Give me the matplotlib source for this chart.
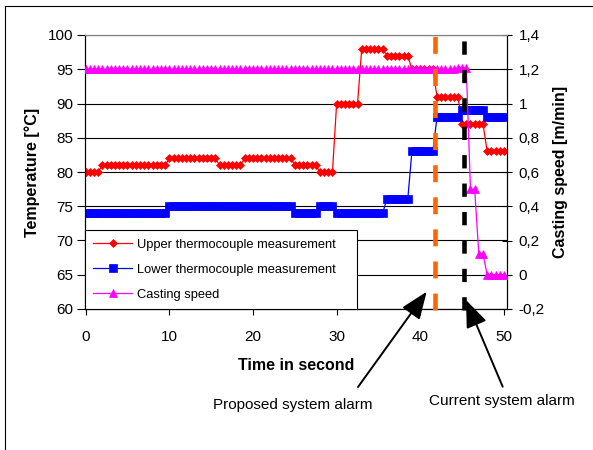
import matplotlib
matplotlib.use('Agg')
import matplotlib.pyplot as plt
import numpy as np
from matplotlib.lines import Line2D

plt.rcParams['font.family'] = ['Liberation Sans', 'DejaVu Sans']

# ---------------- data ----------------
time = np.arange(0, 50.01, 0.5)  # sampling every 0.5 s

upper = [
    80, 80, 80, 80, 81, 81, 81, 81, 81, 81,   # 0 - 4.5
    81, 81, 81, 81, 81, 81, 81, 81, 81, 81,   # 5 - 9.5
    82, 82, 82, 82, 82, 82, 82, 82, 82, 82,   # 10 - 14.5
    82, 82, 81, 81, 81, 81, 81, 81, 82, 82,   # 15 - 19.5
    82, 82, 82, 82, 82, 82, 82, 82, 82, 82,   # 20 - 24.5
    81, 81, 81, 81, 81, 81, 80, 80, 80, 80,   # 25 - 29.5
    90, 90, 90, 90, 90, 90, 98, 98, 98, 98,   # 30 - 34.5
    98, 98, 97, 97, 97, 97, 97, 97, 95, 95,   # 35 - 39.5
    95, 95, 95, 95, 91, 91, 91, 91, 91, 91,   # 40 - 44.5
    87, 87, 87, 87, 87, 87, 83, 83, 83, 83,   # 45 - 49.5
    83,                                       # 50
]

lower = [
    74, 74, 74, 74, 74, 74, 74, 74, 74, 74,   # 0 - 4.5
    74, 74, 74, 74, 74, 74, 74, 74, 74, 74,   # 5 - 9.5
    75, 75, 75, 75, 75, 75, 75, 75, 75, 75,   # 10 - 14.5
    75, 75, 75, 75, 75, 75, 75, 75, 75, 75,   # 15 - 19.5
    75, 75, 75, 75, 75, 75, 75, 75, 75, 75,   # 20 - 24.5
    74, 74, 74, 74, 74, 74, 75, 75, 75, 75,   # 25 - 29.5
    74, 74, 74, 74, 74, 74, 74, 74, 74, 74,   # 30 - 34.5
    74, 74, 76, 76, 76, 76, 76, 76, 83, 83,   # 35 - 39.5
    83, 83, 83, 83, 88, 88, 88, 88, 88, 88,   # 40 - 44.5
    89, 89, 89, 89, 89, 89, 88, 88, 88, 88,   # 45 - 49.5
    88,                                       # 50
]

speed = [
    1.2, 1.2, 1.2, 1.2, 1.2, 1.2, 1.2, 1.2, 1.2, 1.2,        # 0 - 4.5
    1.2, 1.2, 1.2, 1.2, 1.2, 1.2, 1.2, 1.2, 1.2, 1.2,        # 5 - 9.5
    1.2, 1.2, 1.2, 1.2, 1.2, 1.2, 1.2, 1.2, 1.2, 1.2,        # 10 - 14.5
    1.2, 1.2, 1.2, 1.2, 1.2, 1.2, 1.2, 1.2, 1.2, 1.2,        # 15 - 19.5
    1.2, 1.2, 1.2, 1.2, 1.2, 1.2, 1.2, 1.2, 1.2, 1.2,        # 20 - 24.5
    1.2, 1.2, 1.2, 1.2, 1.2, 1.2, 1.2, 1.2, 1.2, 1.2,        # 25 - 29.5
    1.2, 1.2, 1.2, 1.2, 1.2, 1.2, 1.2, 1.2, 1.2, 1.2,        # 30 - 34.5
    1.2, 1.2, 1.2, 1.2, 1.2, 1.2, 1.2, 1.2, 1.2, 1.2,        # 35 - 39.5
    1.2, 1.2, 1.2, 1.2, 1.2, 1.2, 1.2, 1.2, 1.2, 1.21,       # 40 - 44.5
    1.21, 1.21, 0.5, 0.5, 0.12, 0.12, 0.0, 0.0, 0.0, 0.0,    # 45 - 49.5
    0.0,                                                     # 50
]

series_labels = ['Upper thermocouple measurement',
                 'Lower thermocouple measurement',
                 'Casting speed']

x_ticks = [0, 10, 20, 30, 40, 50]
temp_ticks = [60, 65, 70, 75, 80, 85, 90, 95, 100]
speed_ticks = [-0.2, 0.0, 0.2, 0.4, 0.6, 0.8, 1.0, 1.2, 1.4]
speed_tick_labels = ['-0,2', '0', '0,2', '0,4', '0,6', '0,8', '1', '1,2', '1,4']

proposed_alarm_t = 41.75
current_alarm_t = 45.2

# ---------------- figure ----------------
W, H = 593, 450
fig = plt.figure(figsize=(W / 100, H / 100), dpi=100)

ax_l, ax_r, ax_t, ax_b = 85, 506.7, 35, 309
ax1 = fig.add_axes([ax_l / W, 1 - ax_b / H, (ax_r - ax_l) / W, (ax_b - ax_t) / H])
ax2 = ax1.twinx()

l1, = ax1.plot(time, upper, color='#FF0000', marker='D', ms=4.5, lw=0.9,
               mec='#FF0000', mew=0.5, label=series_labels[0], zorder=3)
l2, = ax1.plot(time, lower, color='#0000FF', marker='s', ms=6, lw=0.9,
               mec='#0000FF', mew=0.5, label=series_labels[1], zorder=3)
l3, = ax2.plot(time, speed, color='#FF00FF', marker='^', ms=6.3, lw=0.9,
               mec='#FF00FF', mew=0.5, label=series_labels[2], zorder=3)

ax1.set_xlim(-0.08, 50.33)
ax1.set_ylim(60, 100)
ax2.set_ylim(-0.2, 1.4)

ax1.set_xticks(x_ticks)
ax1.set_yticks(temp_ticks)
ax2.set_yticks(speed_ticks)
ax2.set_yticklabels(speed_tick_labels)

ax1.tick_params(axis='x', direction='out', length=4, width=0.8, pad=11, labelsize=11)
ax1.tick_params(axis='y', direction='out', length=5.5, width=0.8, pad=3, labelsize=11)
ax2.tick_params(axis='y', direction='inout', length=7, width=0.8, pad=5, labelsize=11)

ax1.yaxis.grid(True, color='black', lw=0.8)
ax1.set_axisbelow(True)

for ax in (ax1, ax2):
    for s in ax.spines.values():
        s.set_linewidth(0.8)
        s.set_color('black')
    ax.spines['top'].set_color('#808080')

# dashed alarm lines
ax2.plot([proposed_alarm_t, proposed_alarm_t], [-0.004, 1.047],
         transform=ax2.get_xaxis_transform(), color='#FF6600', lw=3.3,
         ls=(0, (3.7, 3.3)), dash_capstyle='butt', clip_on=False, zorder=10)
ax2.plot([current_alarm_t, current_alarm_t], [-0.004, 1.029],
         transform=ax2.get_xaxis_transform(), color='black', lw=3.3,
         ls=(0, (2.9, 3.3)), dash_capstyle='butt', clip_on=False, zorder=10)

# legend
leg = ax2.legend(handles=[l1, l2, l3], loc='lower left',
                 bbox_to_anchor=(0, 0, (357 - ax_l) / (ax_r - ax_l), 0.3),
                 mode='expand', borderaxespad=0, fontsize=9.3,
                 labelspacing=1.0, borderpad=0.65, handlelength=3.0,
                 handletextpad=0.35, fancybox=False, framealpha=1,
                 edgecolor='black', numpoints=1)
leg.get_frame().set_linewidth(0.8)
leg.set_zorder(20)

# axis titles
fig.text(32 / W, 1 - 172 / H, 'Temperature [°C]', rotation=90, ha='center',
         va='center', fontsize=11.5, fontweight='bold')
fig.text(561 / W, 1 - 172 / H, 'Casting speed [m/min]', rotation=90,
         ha='center', va='center', fontsize=11.5, fontweight='bold')
fig.text(296 / W, 1 - 366 / H, 'Time in second', ha='center', va='center',
         fontsize=11.5, fontweight='bold')

# annotations
fig.text(293 / W, 1 - 405 / H, 'Proposed system alarm', ha='center',
         va='center', fontsize=11)
fig.text(502 / W, 1 - 401 / H, 'Current system alarm', ha='center',
         va='center', fontsize=11)

arrow_kw = dict(arrowstyle='-|>,head_length=1.4,head_width=0.55',
                mutation_scale=12, lw=1.4, color='black',
                shrinkA=0, shrinkB=0)
ax2.annotate('', xy=(426.7 / W, 1 - 291.7 / H), xytext=(358 / W, 1 - 387 / H),
             xycoords='figure fraction', textcoords='figure fraction',
             arrowprops=arrow_kw, annotation_clip=False, zorder=30)
ax2.annotate('', xy=(466 / W, 1 - 300 / H), xytext=(502.7 / W, 1 - 386.7 / H),
             xycoords='figure fraction', textcoords='figure fraction',
             arrowprops=arrow_kw, annotation_clip=False, zorder=30)

# outer frame (left and top edges visible)
fig.add_artist(Line2D([5 / W, 5 / W], [0, 1 - 6 / H], transform=fig.transFigure,
                      color='black', lw=0.8))
fig.add_artist(Line2D([5 / W, 1], [1 - 6 / H, 1 - 6 / H], transform=fig.transFigure,
                      color='black', lw=0.8))

fig.savefig('out.png', dpi=100)
